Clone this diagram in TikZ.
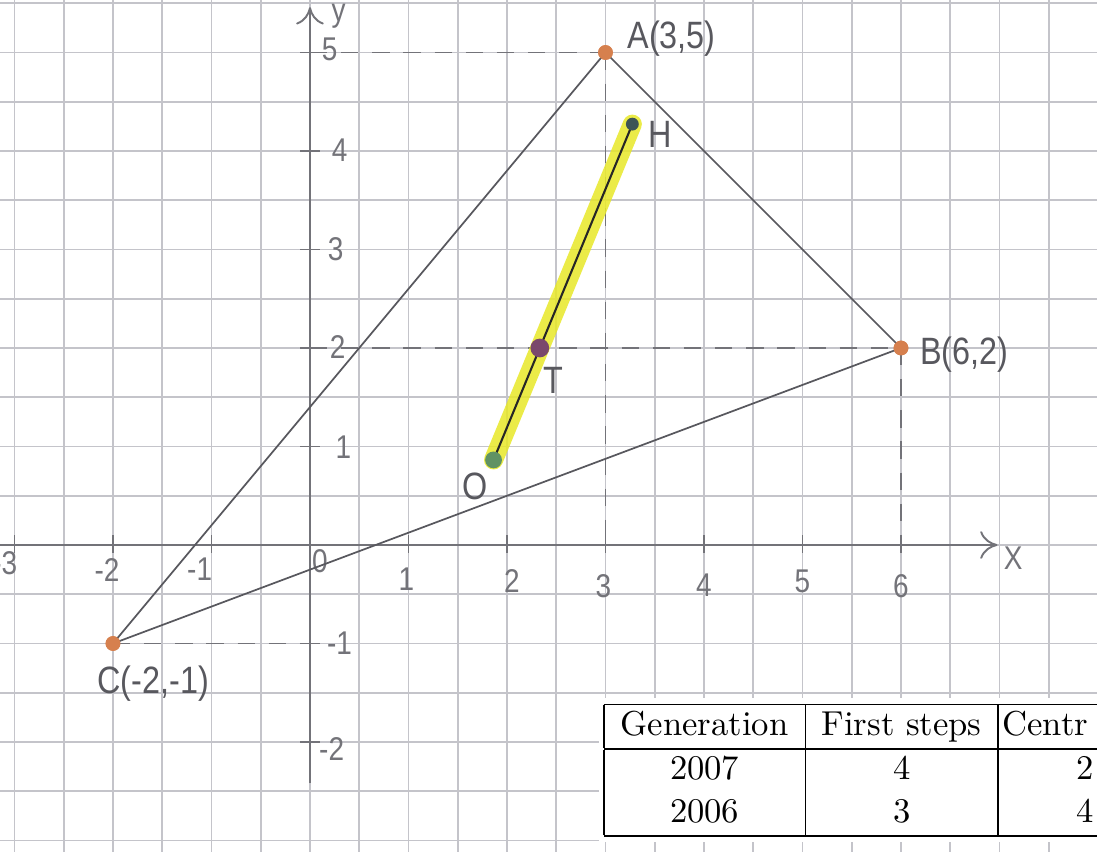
\documentclass[tikz,border=0pt]{standalone}
\usepackage{fontspec}
\usepackage{xcolor}
\usepackage{tikz}
\usetikzlibrary{arrows.meta, positioning}
\newfontfamily\handfont[FakeStretch=0.85]{Liberation Sans}
\definecolor{pencil}{RGB}{88,88,94}
\definecolor{softpencil}{RGB}{115,115,121}
\definecolor{gridgray}{RGB}{196,196,202}
\definecolor{marker}{RGB}{232,232,40}
\definecolor{vertexdot}{RGB}{214,128,78}
\definecolor{hdot}{RGB}{62,84,86}
\definecolor{tdot}{RGB}{122,72,108}
\definecolor{odot}{RGB}{96,146,100}
\setlength{\arrayrulewidth}{0.5pt}

\begin{document}
\begin{tikzpicture}[
    side/.style={draw=pencil, line width=0.5pt},
    guide/.style={draw=softpencil, line width=0.5pt, dash pattern=on 5pt off 4pt},
    axisarr/.style={-{To[length=5pt, width=8pt]}, draw=softpencil, line width=0.55pt},
    hand/.style={text=pencil, font=\handfont\fontsize{11}{13}\selectfont, inner sep=1pt},
    ticklbl/.style={text=softpencil, font=\handfont\fontsize{9.5}{11}\selectfont, inner sep=1pt},
    dot/.style={circle, fill=#1, minimum size=0.15cm, inner sep=0pt}
]
\coordinate (sw) at (-3.147,-3.107);
\coordinate (ne) at (7.99,5.533);
\useasboundingbox (sw) rectangle (ne);
\clip (sw) rectangle (ne);
\fill[white] (sw) rectangle (ne);
\draw[gridgray, line width=0.45pt, step=0.5] (-3.5,-3.5) grid (8.5,6);

\coordinate (Ay) at (0,5);
\coordinate (Ax) at (3,0);
\coordinate (By) at (0,2);
\coordinate (Bx) at (6,0);
\coordinate (Cy) at (0,-1);
\coordinate (xstart) at (-3.3,0);
\coordinate (xend) at (6.98,0);
\coordinate (ystart) at (0,-2.42);
\coordinate (yend) at (0,5.46);

\node[dot=vertexdot] (A) at (3,5) {};
\node[dot=vertexdot] (B) at (6,2) {};
\node[dot=vertexdot] (C) at (-2,-1) {};
\node[dot=hdot, minimum size=0.13cm] (H) at (3.2727,4.2727) {};
\node[dot=tdot, minimum size=0.19cm] (T) at (2.3333,2) {};
\node[dot=odot, minimum size=0.17cm] (O) at (1.8636,0.8636) {};

\draw[guide] (Ay) -- (A.center);
\draw[guide] (A.center) -- (Ax);
\draw[guide] (By) -- (B.center);
\draw[guide] (B.center) -- (Bx);
\draw[guide] (C.center) -- (Cy);

\draw[axisarr] (xstart) -- (xend);
\draw[axisarr] (ystart) -- (yend);
\foreach \x in {-3,...,6} \draw[softpencil, line width=0.5pt] (\x,0.1) -- (\x,-0.08);
\foreach \y in {-2,-1,1,2,3,4,5} \draw[softpencil, line width=0.5pt] (-0.1,\y) -- (0.1,\y);

\foreach \t/\px/\py in {-2/-2.06/-0.25, -1/-1.12/-0.25, 0/0.1/-0.16, 1/0.98/-0.35, 2/2.05/-0.37, 3/2.98/-0.42, 4/4.0/-0.41, 5/5.0/-0.37, 6/6.0/-0.42}
  \node[ticklbl] at (\px,\py) {\t};
\node[ticklbl, anchor=east] (xminus3) at (-2.93,-0.18) {-3};
\node[ticklbl] (xname) at (7.14,-0.13) {X};
\foreach \t/\px/\py in {5/0.2/5.03, 4/0.3/4.01, 3/0.26/3.0, 2/0.28/2.01, 1/0.34/0.99, -1/0.3/-1.0, -2/0.22/-2.07}
  \node[ticklbl] at (\px,\py) {\t};
\node[ticklbl] (yname) at (0.29,5.37) {y};

\draw[side] (A.center) -- (B.center) -- (C.center) -- cycle;
\draw[marker, opacity=0.85, line width=5.5pt, line cap=round] (O.center) -- (H.center);
\draw[black!85, line width=0.6pt] (O.center) -- (H.center);
\node[dot=vertexdot] at (A) {};
\node[dot=vertexdot] at (B) {};
\node[dot=vertexdot] at (C) {};
\node[dot=hdot, minimum size=0.13cm] at (H) {};
\node[dot=tdot, minimum size=0.19cm] at (T) {};
\node[dot=odot, minimum size=0.17cm] at (O) {};

\node[hand, right=0.1cm of A, yshift=4pt] (Alabel) {A(3,5)};
\node[hand, right=0.07cm of B, yshift=-2pt] (Blabel) {B(6,2)};
\node[hand, below=0.1cm of C, xshift=0.41cm] (Clabel) {C(-2,-1)};
\node[hand, right=0.05cm of H, yshift=-3pt] (Hlabel) {H};
\node[hand, below=0.05cm of T, xshift=0.14cm] (Tlabel) {T};
\node[hand, below=0cm of O, xshift=-0.19cm] (Olabel) {O};

\node[fill=white, inner sep=1.5pt, anchor=north west, font=\fontsize{10}{12.3}\selectfont] (scores) at (2.922,-1.551) {%
\setlength{\tabcolsep}{0pt}%
\begin{tabular}{|c|c|c}
\hline
\makebox[2.05cm]{Generation} & \makebox[1.95cm]{First steps} & \makebox[1.77cm][l]{\hspace{0.05cm}Centr}\\
\hline
2007 & 4 & 2\\
2006 & 3 & 4\\
\hline
\end{tabular}};
\end{tikzpicture}
\end{document}
